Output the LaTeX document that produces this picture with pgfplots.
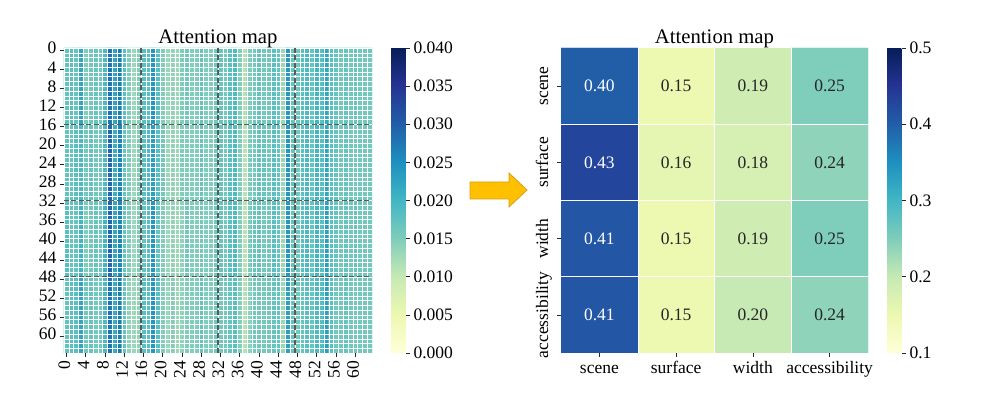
\documentclass[border=0pt]{standalone}
\usepackage{fontspec}
\setmainfont{Liberation Serif}
\usepackage{pgfplots}
\pgfplotsset{compat=1.18}

\definecolor{arrowfill}{RGB}{255,192,0}
\definecolor{arrowedge}{RGB}{215,160,20}
\definecolor{dashgray}{RGB}{90,90,90}
\definecolor{txtdark}{RGB}{38,38,38}

\pgfplotsset{
  colormap={ylgnbu}{rgb255=(255,255,217) rgb255=(237,248,177) rgb255=(199,233,180)
    rgb255=(127,205,187) rgb255=(65,182,196) rgb255=(29,145,192) rgb255=(34,94,168)
    rgb255=(37,52,148) rgb255=(8,29,88)},
  /pgf/number format/assume math mode=true,
  hm/.style={
    scale only axis,
    y dir=reverse,
    enlargelimits=false,
    axis line style={draw=none},
    tick pos=left,
    tick align=outside,
    major tick length=4pt,
    tick style={txtdark, line width=0.6pt},
    tick label style={font=\fontsize{17.5}{18}\selectfont},
    typeset ticklabels with strut,
    title style={font=\fontsize{20.7}{22}\selectfont, yshift=-9pt},
    colorbar,
  },
  cbar/.style={
    scale only axis,
    width=15pt,
    at={(parent axis.north east)}, anchor=north west, xshift=10.5pt,
    axis line style={draw=none},
    ytick pos=right,
    tick align=outside,
    major tick length=4pt,
    tick style={txtdark, line width=0.6pt},
    tick label style={font=\fontsize{17.5}{18}\selectfont},
    scaled y ticks=false,
  },
}

\begin{document}
\begin{tikzpicture}
\useasboundingbox (0,0) rectangle (997pt,398pt);

% left: 64x64 attention map (column values per 16-row band)
\begin{axis}[hm, at={(64pt,45pt)}, anchor=south west, width=308pt, height=305pt,
  xmin=0, xmax=64, ymin=0, ymax=64,
  xtick={0.5,4.5,8.5,12.5,16.5,20.5,24.5,28.5,32.5,36.5,40.5,44.5,48.5,52.5,56.5,60.5},
  xticklabels={0,4,8,12,16,20,24,28,32,36,40,44,48,52,56,60},
  ytick={0.5,4.5,8.5,12.5,16.5,20.5,24.5,28.5,32.5,36.5,40.5,44.5,48.5,52.5,56.5,60.5},
  yticklabels={0,4,8,12,16,20,24,28,32,36,40,44,48,52,56,60},
  xticklabel style={rotate=90, anchor=east},
  point meta min=0, point meta max=0.04,
  title={Attention map},
  colorbar style={cbar,
    ytick={0,0.005,0.01,0.015,0.02,0.025,0.03,0.035,0.04},
    yticklabel style={/pgf/number format/.cd, fixed, fixed zerofill, precision=3}},
]
\addplot[matrix plot*, mesh/cols=64, point meta=explicit] table[meta=c, row sep=\\] {
x y c\\
0.5 8 0.017\\ 1.5 8 0.018\\ 2.5 8 0.017\\ 3.5 8 0.022\\ 4.5 8 0.015\\ 5.5 8 0.016\\ 6.5 8 0.017\\ 7.5 8 0.016\\
8.5 8 0.019\\ 9.5 8 0.028\\ 10.5 8 0.022\\ 11.5 8 0.027\\ 12.5 8 0.018\\ 13.5 8 0.015\\ 14.5 8 0.013\\ 15.5 8 0.015\\
16.5 8 0.018\\ 17.5 8 0.018\\ 18.5 8 0.024\\ 19.5 8 0.018\\ 20.5 8 0.015\\ 21.5 8 0.013\\ 22.5 8 0.014\\ 23.5 8 0.013\\
24.5 8 0.015\\ 25.5 8 0.016\\ 26.5 8 0.015\\ 27.5 8 0.015\\ 28.5 8 0.017\\ 29.5 8 0.015\\ 30.5 8 0.015\\ 31.5 8 0.016\\
32.5 8 0.017\\ 33.5 8 0.016\\ 34.5 8 0.018\\ 35.5 8 0.019\\ 36.5 8 0.015\\ 37.5 8 0.011\\ 38.5 8 0.015\\ 39.5 8 0.016\\
40.5 8 0.017\\ 41.5 8 0.016\\ 42.5 8 0.016\\ 43.5 8 0.018\\ 44.5 8 0.017\\ 45.5 8 0.013\\ 46.5 8 0.024\\ 47.5 8 0.017\\
48.5 8 0.016\\ 49.5 8 0.018\\ 50.5 8 0.019\\ 51.5 8 0.017\\ 52.5 8 0.020\\ 53.5 8 0.018\\ 54.5 8 0.022\\ 55.5 8 0.018\\
56.5 8 0.017\\ 57.5 8 0.016\\ 58.5 8 0.017\\ 59.5 8 0.016\\ 60.5 8 0.017\\ 61.5 8 0.016\\ 62.5 8 0.016\\ 63.5 8 0.016\\
0.5 24 0.017\\ 1.5 24 0.017\\ 2.5 24 0.018\\ 3.5 24 0.019\\ 4.5 24 0.016\\ 5.5 24 0.017\\ 6.5 24 0.016\\ 7.5 24 0.016\\
8.5 24 0.019\\ 9.5 24 0.029\\ 10.5 24 0.021\\ 11.5 24 0.026\\ 12.5 24 0.017\\ 13.5 24 0.015\\ 14.5 24 0.013\\ 15.5 24 0.015\\
16.5 24 0.018\\ 17.5 24 0.019\\ 18.5 24 0.023\\ 19.5 24 0.018\\ 20.5 24 0.016\\ 21.5 24 0.013\\ 22.5 24 0.014\\ 23.5 24 0.013\\
24.5 24 0.015\\ 25.5 24 0.015\\ 26.5 24 0.015\\ 27.5 24 0.015\\ 28.5 24 0.017\\ 29.5 24 0.015\\ 30.5 24 0.015\\ 31.5 24 0.016\\
32.5 24 0.017\\ 33.5 24 0.016\\ 34.5 24 0.018\\ 35.5 24 0.019\\ 36.5 24 0.015\\ 37.5 24 0.011\\ 38.5 24 0.015\\ 39.5 24 0.016\\
40.5 24 0.017\\ 41.5 24 0.017\\ 42.5 24 0.016\\ 43.5 24 0.018\\ 44.5 24 0.017\\ 45.5 24 0.013\\ 46.5 24 0.024\\ 47.5 24 0.017\\
48.5 24 0.016\\ 49.5 24 0.018\\ 50.5 24 0.019\\ 51.5 24 0.017\\ 52.5 24 0.020\\ 53.5 24 0.018\\ 54.5 24 0.022\\ 55.5 24 0.018\\
56.5 24 0.017\\ 57.5 24 0.016\\ 58.5 24 0.017\\ 59.5 24 0.016\\ 60.5 24 0.016\\ 61.5 24 0.016\\ 62.5 24 0.016\\ 63.5 24 0.016\\
0.5 40 0.018\\ 1.5 40 0.017\\ 2.5 40 0.017\\ 3.5 40 0.020\\ 4.5 40 0.015\\ 5.5 40 0.016\\ 6.5 40 0.017\\ 7.5 40 0.016\\
8.5 40 0.020\\ 9.5 40 0.029\\ 10.5 40 0.022\\ 11.5 40 0.026\\ 12.5 40 0.017\\ 13.5 40 0.015\\ 14.5 40 0.013\\ 15.5 40 0.015\\
16.5 40 0.017\\ 17.5 40 0.018\\ 18.5 40 0.024\\ 19.5 40 0.017\\ 20.5 40 0.015\\ 21.5 40 0.013\\ 22.5 40 0.014\\ 23.5 40 0.013\\
24.5 40 0.014\\ 25.5 40 0.016\\ 26.5 40 0.015\\ 27.5 40 0.015\\ 28.5 40 0.016\\ 29.5 40 0.015\\ 30.5 40 0.015\\ 31.5 40 0.016\\
32.5 40 0.017\\ 33.5 40 0.016\\ 34.5 40 0.018\\ 35.5 40 0.019\\ 36.5 40 0.015\\ 37.5 40 0.011\\ 38.5 40 0.015\\ 39.5 40 0.017\\
40.5 40 0.017\\ 41.5 40 0.016\\ 42.5 40 0.016\\ 43.5 40 0.018\\ 44.5 40 0.017\\ 45.5 40 0.013\\ 46.5 40 0.024\\ 47.5 40 0.017\\
48.5 40 0.016\\ 49.5 40 0.018\\ 50.5 40 0.019\\ 51.5 40 0.017\\ 52.5 40 0.020\\ 53.5 40 0.018\\ 54.5 40 0.023\\ 55.5 40 0.018\\
56.5 40 0.017\\ 57.5 40 0.016\\ 58.5 40 0.017\\ 59.5 40 0.016\\ 60.5 40 0.017\\ 61.5 40 0.016\\ 62.5 40 0.016\\ 63.5 40 0.016\\
0.5 56 0.017\\ 1.5 56 0.018\\ 2.5 56 0.018\\ 3.5 56 0.022\\ 4.5 56 0.016\\ 5.5 56 0.017\\ 6.5 56 0.016\\ 7.5 56 0.016\\
8.5 56 0.019\\ 9.5 56 0.028\\ 10.5 56 0.021\\ 11.5 56 0.027\\ 12.5 56 0.017\\ 13.5 56 0.014\\ 14.5 56 0.013\\ 15.5 56 0.014\\
16.5 56 0.018\\ 17.5 56 0.018\\ 18.5 56 0.024\\ 19.5 56 0.018\\ 20.5 56 0.015\\ 21.5 56 0.013\\ 22.5 56 0.015\\ 23.5 56 0.013\\
24.5 56 0.014\\ 25.5 56 0.015\\ 26.5 56 0.015\\ 27.5 56 0.015\\ 28.5 56 0.017\\ 29.5 56 0.015\\ 30.5 56 0.015\\ 31.5 56 0.016\\
32.5 56 0.016\\ 33.5 56 0.016\\ 34.5 56 0.017\\ 35.5 56 0.018\\ 36.5 56 0.015\\ 37.5 56 0.011\\ 38.5 56 0.014\\ 39.5 56 0.016\\
40.5 56 0.016\\ 41.5 56 0.016\\ 42.5 56 0.016\\ 43.5 56 0.017\\ 44.5 56 0.017\\ 45.5 56 0.013\\ 46.5 56 0.023\\ 47.5 56 0.017\\
48.5 56 0.016\\ 49.5 56 0.017\\ 50.5 56 0.018\\ 51.5 56 0.017\\ 52.5 56 0.019\\ 53.5 56 0.018\\ 54.5 56 0.023\\ 55.5 56 0.018\\
56.5 56 0.016\\ 57.5 56 0.016\\ 58.5 56 0.017\\ 59.5 56 0.016\\ 60.5 56 0.016\\ 61.5 56 0.016\\ 62.5 56 0.016\\ 63.5 56 0.016\\
};
% white cell borders
\pgfplotsinvokeforeach{0,...,64}{
  \draw[white, line width=0.3pt] (axis cs:#1,0) -- (axis cs:#1,64);
  \draw[white, line width=0.3pt] (axis cs:0,#1) -- (axis cs:64,#1);
}
% group separators
\pgfplotsinvokeforeach{16,32,48}{
  \draw[dashgray, line width=1.3pt, dash pattern=on 5pt off 2.5pt] (axis cs:#1,0) -- (axis cs:#1,64);
  \draw[dashgray, line width=1.3pt, dash pattern=on 5pt off 2.5pt] (axis cs:0,#1) -- (axis cs:64,#1);
}
\end{axis}

% arrow
\filldraw[fill=arrowfill, draw=arrowedge, line width=0.8pt]
  (470pt,199pt) -- (509pt,199pt) -- (509pt,191pt) -- (527pt,208pt)
  -- (509pt,225pt) -- (509pt,216pt) -- (470pt,216pt) -- cycle;

% right: 4x4 attribute attention map
\begin{axis}[hm, at={(561pt,45pt)}, anchor=south west, width=307pt, height=305pt,
  xmin=0, xmax=4, ymin=0, ymax=4,
  xtick={0.5,1.5,2.5,3.5}, ytick={0.5,1.5,2.5,3.5},
  xticklabels={scene,surface,width,accessibility},
  yticklabels={scene,surface,width,accessibility},
  yticklabel style={rotate=90, anchor=south},
  point meta min=0.1, point meta max=0.5,
  title={Attention map},
  colorbar style={cbar,
    ytick={0.1,0.2,0.3,0.4,0.5},
    yticklabel style={/pgf/number format/.cd, fixed, fixed zerofill, precision=1}},
]
\addplot[matrix plot*, mesh/cols=4, point meta=explicit] table[meta=c, row sep=\\] {
x y c\\
0.5 0.5 0.40\\ 1.5 0.5 0.15\\ 2.5 0.5 0.19\\ 3.5 0.5 0.25\\
0.5 1.5 0.43\\ 1.5 1.5 0.16\\ 2.5 1.5 0.18\\ 3.5 1.5 0.24\\
0.5 2.5 0.41\\ 1.5 2.5 0.15\\ 2.5 2.5 0.19\\ 3.5 2.5 0.25\\
0.5 3.5 0.41\\ 1.5 3.5 0.15\\ 2.5 3.5 0.20\\ 3.5 3.5 0.24\\
};
\pgfplotsinvokeforeach{1,2,3}{
  \draw[white, line width=0.5pt] (axis cs:#1,0) -- (axis cs:#1,4);
  \draw[white, line width=0.5pt] (axis cs:0,#1) -- (axis cs:4,#1);
}
% annotations
\addplot[draw=none, mark=none, point meta=explicit,
  nodes near coords={\pgfmathprintnumber[fixed,fixed zerofill,precision=2]{\pgfplotspointmeta}},
  every node near coord/.append style={white, anchor=center, font=\fontsize{17.5}{18}\selectfont}]
  table[meta=c, row sep=\\] {
x y c\\
0.5 0.5 0.40\\ 0.5 1.5 0.43\\ 0.5 2.5 0.41\\ 0.5 3.5 0.41\\
};
\addplot[draw=none, mark=none, point meta=explicit,
  nodes near coords={\pgfmathprintnumber[fixed,fixed zerofill,precision=2]{\pgfplotspointmeta}},
  every node near coord/.append style={txtdark, anchor=center, font=\fontsize{17.5}{18}\selectfont}]
  table[meta=c, row sep=\\] {
x y c\\
1.5 0.5 0.15\\ 2.5 0.5 0.19\\ 3.5 0.5 0.25\\
1.5 1.5 0.16\\ 2.5 1.5 0.18\\ 3.5 1.5 0.24\\
1.5 2.5 0.15\\ 2.5 2.5 0.19\\ 3.5 2.5 0.25\\
1.5 3.5 0.15\\ 2.5 3.5 0.20\\ 3.5 3.5 0.24\\
};
\end{axis}
\end{tikzpicture}
\end{document}
